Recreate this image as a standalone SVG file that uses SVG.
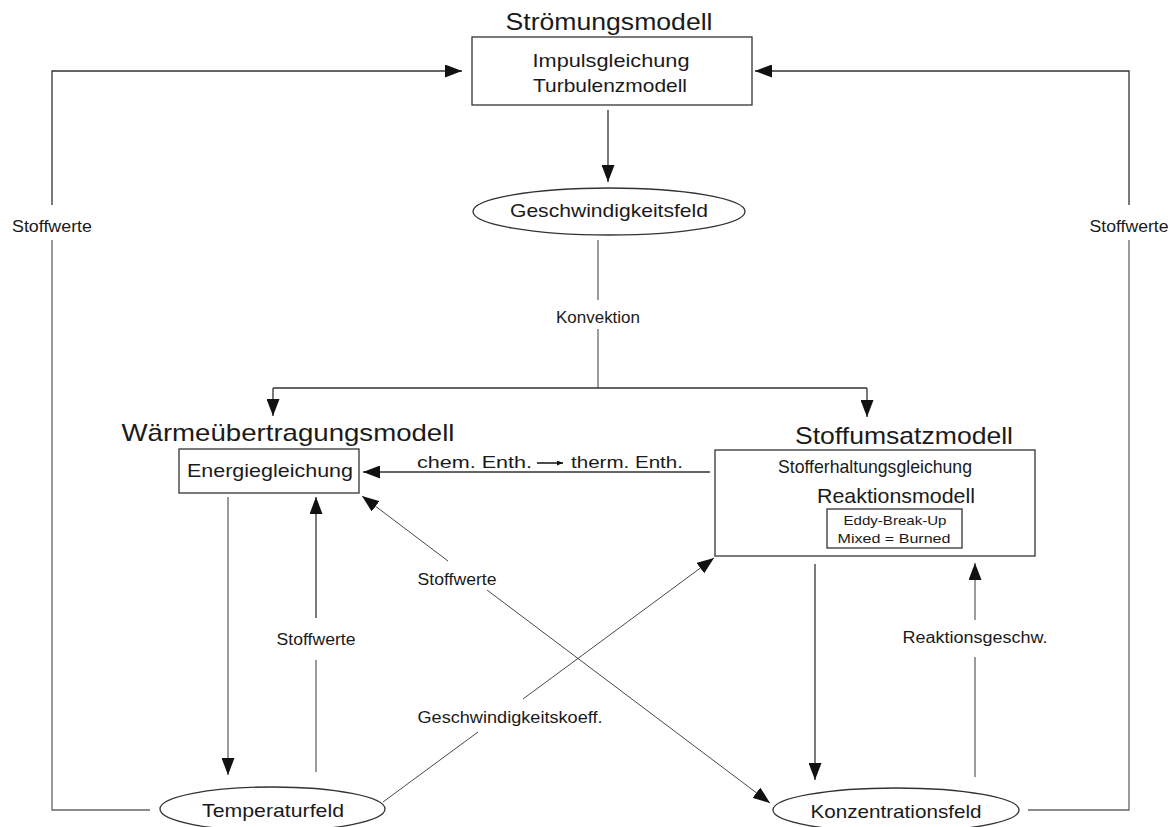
<svg xmlns="http://www.w3.org/2000/svg" width="1175" height="827" viewBox="0 0 1175 827">
<style>
text{font-family:"Liberation Sans",Arial,sans-serif;fill:#1a1a1a}
.title{font-size:24px}
.node{font-size:19px}
.lbl{font-size:16px}
.small{font-size:13px}
.box{fill:#fff;stroke:#333;stroke-width:1.3}
.ln{fill:none;stroke:#333;stroke-width:1.3}
.thin{fill:none;stroke:#333;stroke-width:0.9}
.gray{fill:none;stroke:#666;stroke-width:1.3}
</style>
<defs>
<marker id="ah" markerUnits="userSpaceOnUse" markerWidth="17" markerHeight="13" refX="17" refY="6.5" orient="auto">
<path d="M0,0 L17,6.5 L0,13 z" fill="#111"/>
</marker>
<marker id="sah" markerUnits="userSpaceOnUse" markerWidth="6" markerHeight="5" refX="6" refY="2.5" orient="auto">
<path d="M0,0 L6,2.5 L0,5 z" fill="#111"/>
</marker>
</defs>
<rect width="1175" height="827" fill="#fff"/>

<g id="connectors">
<!-- Strömungsmodell -> Geschwindigkeitsfeld -->
<line class="ln" x1="608" y1="110" x2="608" y2="182" marker-end="url(#ah)"/>
<!-- Konvektion -->
<line class="gray" x1="598" y1="240" x2="598" y2="300"/>
<text class="lbl" x="598" y="323" text-anchor="middle" textLength="84" lengthAdjust="spacingAndGlyphs">Konvektion</text>
<line class="gray" x1="598" y1="329" x2="598" y2="388"/>
<line class="ln" x1="273" y1="388" x2="867" y2="388"/>
<line class="ln" x1="273" y1="388" x2="273" y2="416" marker-end="url(#ah)"/>
<line class="ln" x1="867" y1="388" x2="867" y2="417" marker-end="url(#ah)"/>
<!-- left Stoffwerte loop -->
<polyline class="gray" points="150,810 52,810 52,240"/>
<text class="lbl" x="52" y="232" text-anchor="middle" textLength="80" lengthAdjust="spacingAndGlyphs">Stoffwerte</text>
<polyline class="ln" points="52,205 52,71 462,71" marker-end="url(#ah)"/>
<!-- right Stoffwerte loop -->
<polyline class="gray" points="1028,810 1129,810 1129,240"/>
<text class="lbl" x="1129" y="232" text-anchor="middle" textLength="79" lengthAdjust="spacingAndGlyphs">Stoffwerte</text>
<polyline class="ln" points="1129,205 1129,71 755,71" marker-end="url(#ah)"/>
<!-- chem. Enth. -> therm. Enth. -->
<line class="ln" x1="710" y1="472" x2="363" y2="472" marker-end="url(#ah)"/>
<text class="lbl" x="417" y="468" textLength="115" lengthAdjust="spacingAndGlyphs" style="font-size:17px">chem. Enth.</text>
<line x1="537" y1="463" x2="563" y2="463" stroke="#111" stroke-width="1.5" marker-end="url(#sah)"/>
<text class="lbl" x="571" y="468" textLength="112" lengthAdjust="spacingAndGlyphs" style="font-size:17px">therm. Enth.</text>
<!-- Energiegleichung -> Temperaturfeld -->
<line class="gray" x1="228" y1="497" x2="228" y2="775" marker-end="url(#ah)"/>
<!-- Temperaturfeld -> Energiegleichung (Stoffwerte) -->
<line class="gray" x1="316" y1="772" x2="316" y2="660"/>
<text class="lbl" x="316" y="645" text-anchor="middle" textLength="79" lengthAdjust="spacingAndGlyphs">Stoffwerte</text>
<line class="ln" x1="316" y1="618" x2="316" y2="497" marker-end="url(#ah)"/>
<!-- Diagonal Stoffwerte: Konzentrationsfeld <-> Energiegleichung -->
<line class="thin" x1="487" y1="590" x2="770" y2="803" marker-end="url(#ah)"/>
<text class="lbl" x="457" y="585" text-anchor="middle" textLength="79" lengthAdjust="spacingAndGlyphs">Stoffwerte</text>
<line class="thin" x1="448" y1="561" x2="362" y2="496" marker-end="url(#ah)"/>
<!-- Geschwindigkeitskoeff. -->
<line class="thin" x1="383" y1="802" x2="478" y2="732"/>
<text class="lbl" x="510" y="723" text-anchor="middle" textLength="185" lengthAdjust="spacingAndGlyphs">Geschwindigkeitskoeff.</text>
<line class="thin" x1="523" y1="699" x2="714" y2="558" marker-end="url(#ah)"/>
<!-- Stoffumsatz -> Konzentrationsfeld -->
<line class="ln" x1="815" y1="564" x2="815" y2="780" marker-end="url(#ah)"/>
<!-- Reaktionsgeschw. -->
<line class="gray" x1="975" y1="777" x2="975" y2="657"/>
<text class="lbl" x="975" y="643" text-anchor="middle" textLength="145" lengthAdjust="spacingAndGlyphs">Reaktionsgeschw.</text>
<line class="gray" x1="975" y1="620" x2="975" y2="563" marker-end="url(#ah)"/>
</g>

<g id="stroemungsmodell">
<text class="title" x="609" y="30" text-anchor="middle" textLength="207" lengthAdjust="spacingAndGlyphs">Strömungsmodell</text>
<rect class="box" x="472" y="37" width="280" height="68"/>
<text class="node" x="611" y="67" text-anchor="middle" textLength="157" lengthAdjust="spacingAndGlyphs">Impulsgleichung</text>
<text class="node" x="610" y="92" text-anchor="middle" textLength="154" lengthAdjust="spacingAndGlyphs">Turbulenzmodell</text>
</g>

<g id="geschwindigkeitsfeld">
<ellipse class="box" cx="609" cy="211.5" rx="136" ry="23.5"/>
<text class="node" x="609" y="217" text-anchor="middle" textLength="198" lengthAdjust="spacingAndGlyphs">Geschwindigkeitsfeld</text>
</g>

<g id="waermeuebertragungsmodell">
<text class="title" x="288" y="441" text-anchor="middle" textLength="333" lengthAdjust="spacingAndGlyphs">Wärmeübertragungsmodell</text>
<rect class="box" x="179" y="449" width="180" height="44"/>
<text class="node" x="270" y="477" text-anchor="middle" textLength="166" lengthAdjust="spacingAndGlyphs">Energiegleichung</text>
</g>

<g id="stoffumsatzmodell">
<text class="title" x="904" y="444" text-anchor="middle" textLength="218" lengthAdjust="spacingAndGlyphs">Stoffumsatzmodell</text>
<rect class="box" x="715" y="450" width="320" height="106"/>
<text class="node" x="875" y="473" text-anchor="middle" textLength="194" lengthAdjust="spacingAndGlyphs">Stofferhaltungsgleichung</text>
<text class="node" x="896" y="503" text-anchor="middle" textLength="158" lengthAdjust="spacingAndGlyphs" style="font-size:21px">Reaktionsmodell</text>
<rect class="box" x="827" y="509" width="135" height="39"/>
<text class="small" x="895" y="525" text-anchor="middle" textLength="103" lengthAdjust="spacingAndGlyphs">Eddy-Break-Up</text>
<text class="small" x="894" y="543" text-anchor="middle" textLength="113" lengthAdjust="spacingAndGlyphs">Mixed = Burned</text>
</g>

<g id="temperaturfeld">
<ellipse class="box" cx="272.5" cy="809" rx="112.5" ry="22"/>
<text class="node" x="273" y="817" text-anchor="middle" textLength="142" lengthAdjust="spacingAndGlyphs">Temperaturfeld</text>
</g>

<g id="konzentrationsfeld">
<ellipse class="box" cx="896" cy="810" rx="123" ry="22"/>
<text class="node" x="896" y="818" text-anchor="middle" textLength="171" lengthAdjust="spacingAndGlyphs">Konzentrationsfeld</text>
</g>
</svg>
